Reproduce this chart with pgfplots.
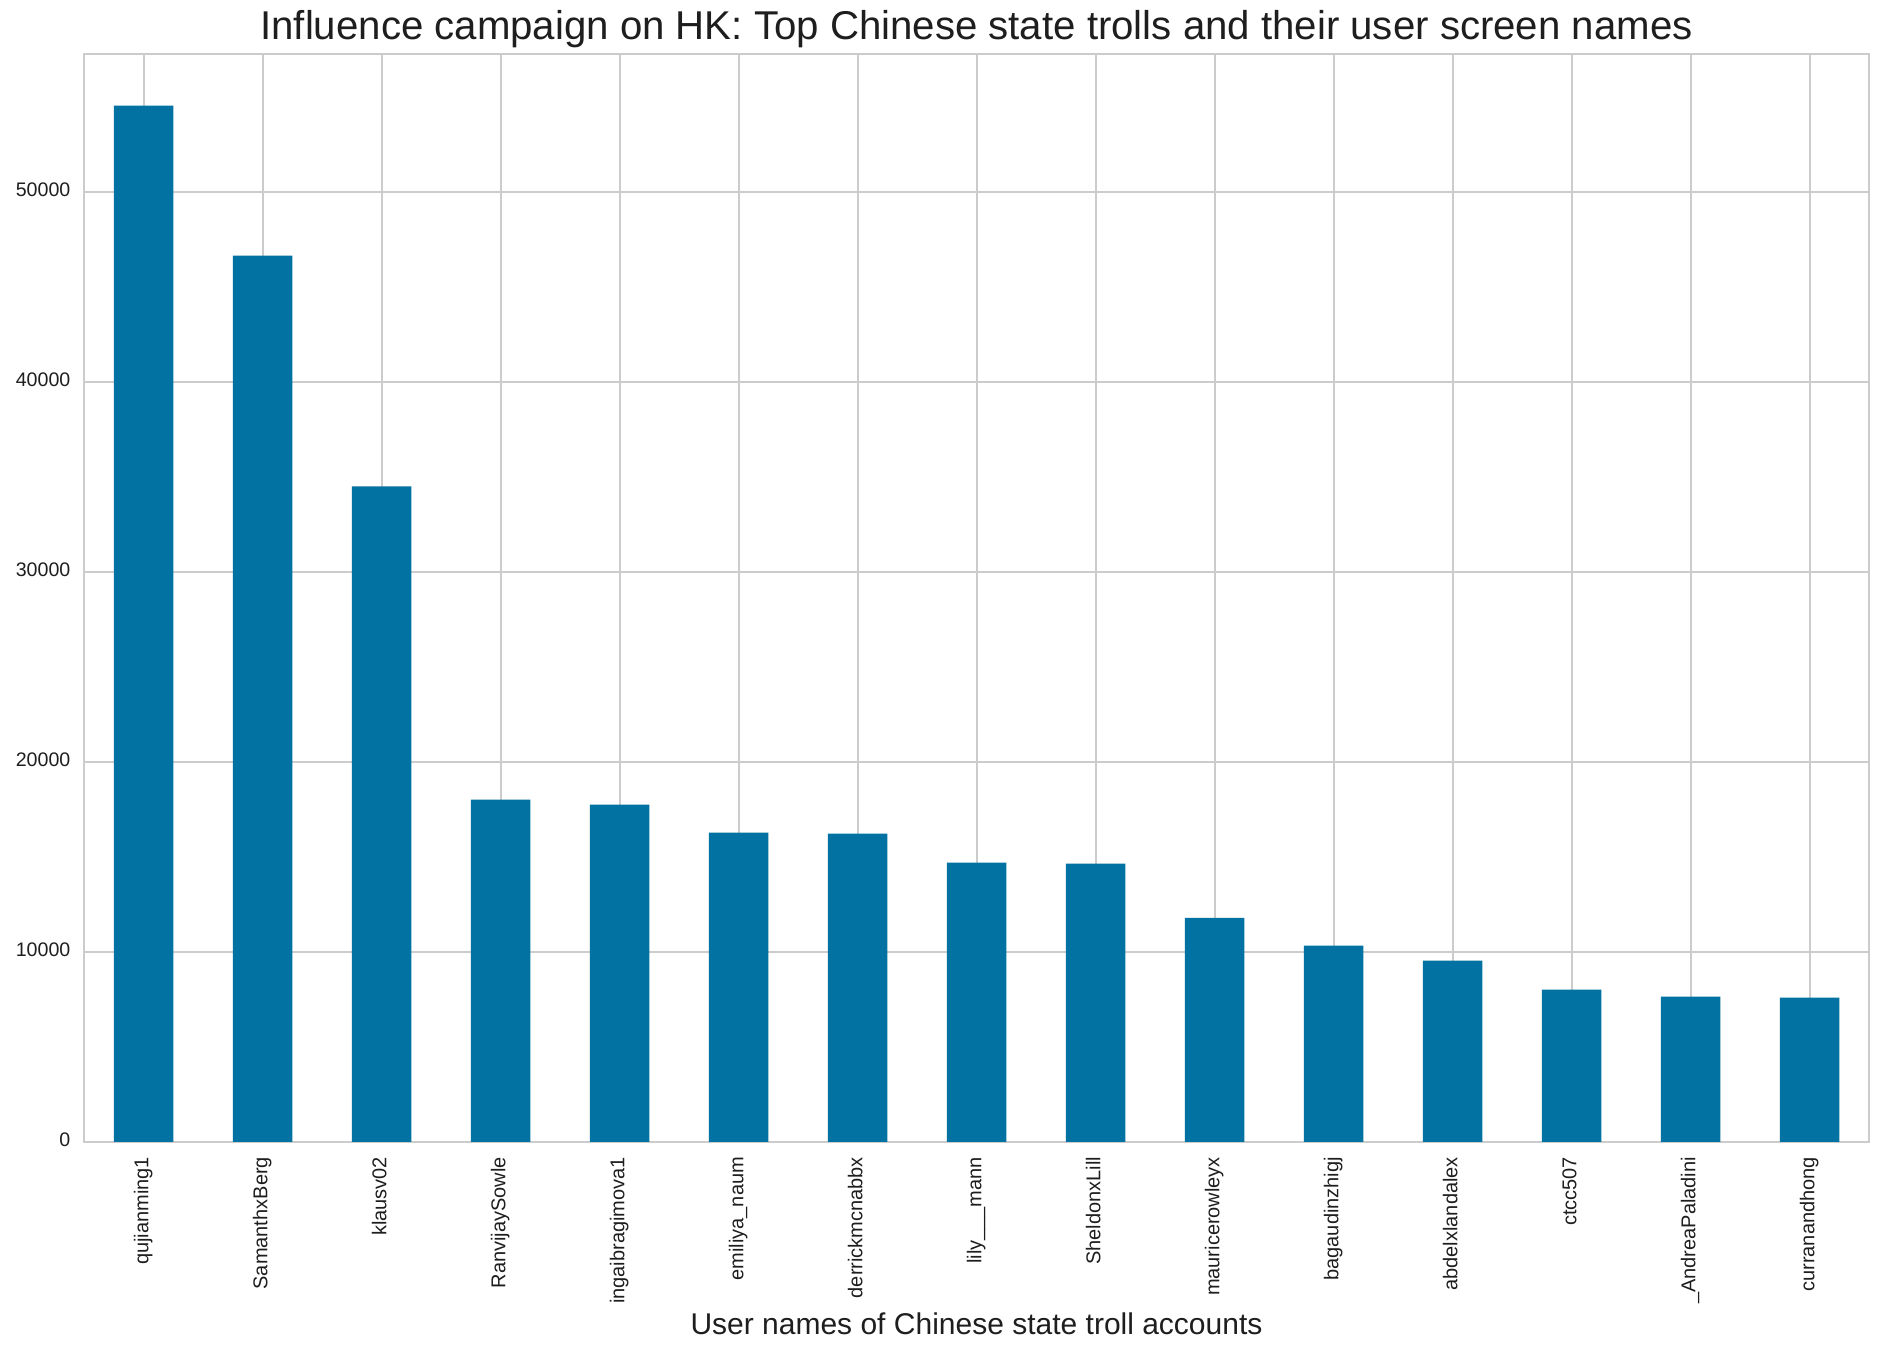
\documentclass[border=0pt]{standalone}
\usepackage{pgfplots}
\pgfplotsset{compat=1.18}
\usepackage{fontspec}
\setmainfont{Liberation Sans}
\definecolor{barblue}{RGB}{2,114,162}
\definecolor{gridgray}{RGB}{204,204,204}
\definecolor{txt}{RGB}{30,30,30}

\begin{document}
\begin{tikzpicture}
\begin{axis}[
  scale only axis,
  width=892.5pt, height=544pt,
  xmin=-0.5, xmax=14.5,
  ymin=0, ymax=57260,
  xtick={0,...,14},
  xticklabels={qujianming1,SamanthxBerg,klausv02,RanvijaySowle,ingaibragimova1,
    emiliya\_naum,derrickmcnabbx,lily\_\_\_mann,SheldonxLill,mauricerowleyx,
    bagaudinzhigj,abdelxlandalex,ctcc507,\_AndreaPaladini,curranandhong},
  ytick={0,10000,20000,30000,40000,50000},
  scaled y ticks=false,
  yticklabel style={/pgf/number format/fixed,/pgf/number format/1000 sep={},
    /pgf/number format/assume math mode=true},
  tick style={draw=none},
  major tick length=0pt,
  xticklabel style={rotate=90, anchor=east, xshift=-4pt,
    font=\fontsize{10}{12}\selectfont, text=txt},
  yticklabel style={xshift=-3.3pt, font=\fontsize{9.8}{12}\selectfont, text=txt},
  xtick pos=bottom, ytick pos=left,
  typeset ticklabels with strut,
  grid=major,
  major grid style={draw=gridgray, line width=1pt},
  axis line style={draw=gridgray, line width=1.2pt},
  xlabel={User names of Chinese state troll accounts},
  xlabel style={at={(axis description cs:0.5,0)}, anchor=base, yshift=-96pt,
    font=\fontsize{15}{18}\selectfont, text=txt},
  title={Influence campaign on HK: Top Chinese state trolls and their user screen names},
  title style={at={(axis description cs:0.5,1)}, anchor=base, yshift=1pt,
    font=\fontsize{20.1}{24}\selectfont, text=txt},
]
\addplot[ybar, bar width=0.5, fill=barblue, draw=none] coordinates {
(0,54540)
(1,46650)
(2,34510)
(3,18020)
(4,17750)
(5,16280)
(6,16230)
(7,14700)
(8,14650)
(9,11800)
(10,10330)
(11,9540)
(12,8020)
(13,7650)
(14,7600)
};
\end{axis}
\pgfresetboundingbox
\path[use as bounding box] (-42pt,-105.5pt) rectangle (900pt,571pt);
\end{tikzpicture}
\end{document}
